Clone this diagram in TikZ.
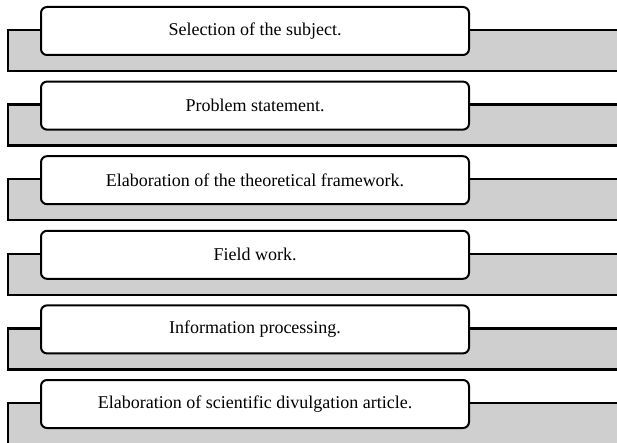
\documentclass[tikz,border=0pt]{standalone}
\usepackage{fontspec}
\setmainfont{Liberation Serif}
\begin{document}
\begin{tikzpicture}[x=1pt,y=-1pt,
  stagebox/.style={draw=black, line width=2pt, fill=white, rounded corners=6pt,
    minimum width=428pt, minimum height=48pt, inner sep=0pt,
    font=\fontsize{18}{21}\selectfont, anchor=north west},
  band/.style={draw=black, line width=2.4pt, fill=black!19}]
\useasboundingbox (0,0) rectangle (617,443);
\begin{scope}
\clip (0,0) rectangle (617,443);
\foreach \i/\txt in {0/{Selection of the subject.},
                     1/{Problem statement.},
                     2/{Elaboration of the theoretical framework.},
                     3/{Field work.},
                     4/{Information processing.},
                     5/{Elaboration of scientific divulgation article.}}{
  \pgfmathsetmacro{\t}{6+74.6*\i}
  \draw[band] (8,\t+24) rectangle (630,\t+65);
  \node[stagebox] (s\i) at (40,\t) {\txt};
}
\end{scope}
\end{tikzpicture}
\end{document}
